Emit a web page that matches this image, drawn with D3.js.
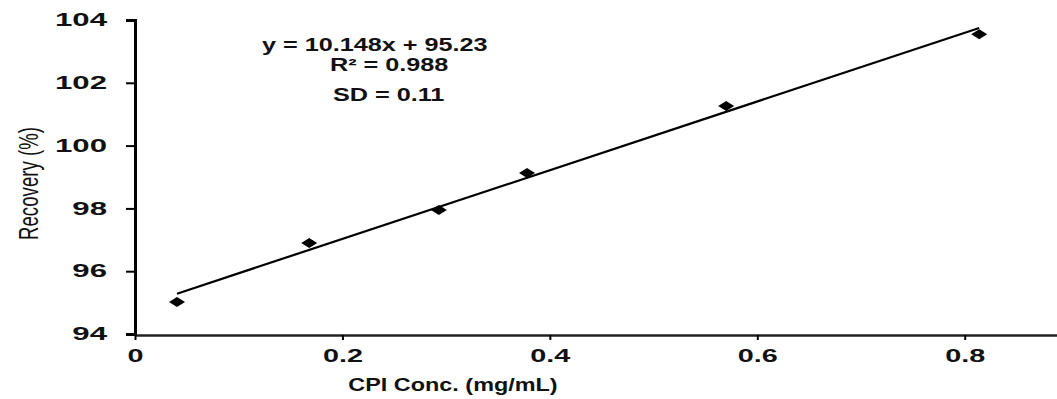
<!DOCTYPE html>
<html>
<head>
<meta charset="utf-8">
<script src="https://cdn.jsdelivr.net/npm/d3@7"></script>
<style>
  html, body { margin: 0; padding: 0; background: #fff; }
  svg { display: block; }
  text { font-family: "Liberation Sans", Arial, sans-serif; }
</style>
</head>
<body>
<svg id="chart" width="1057" height="399"></svg>
<script>
// ---- data ----
const concentration = [0.0405, 0.168, 0.293, 0.378, 0.570, 0.814];
const recovery = [95.02, 96.90, 97.95, 99.13, 101.26, 103.55];
const yTicks = [94, 96, 98, 100, 102, 104];
const xTicks = [0, 0.2, 0.4, 0.6, 0.8];
const annotationLines = ["y = 10.148x + 95.23", "R² = 0.988", "SD = 0.11"];
const xTitle = "CPI Conc. (mg/mL)";
const yTitle = "Recovery (%)";

const svg = d3.select("#chart");
const x = d3.scaleLinear().domain([0, 0.889]).range([135, 1057]);
const y = d3.scaleLinear().domain([94, 104]).range([334, 20]);

// horizontally stretched text: keeps glyph height, widens by factor, honours anchor
function stretchText(sel, factor, anchor) {
  sel.each(function () {
    const t = d3.select(this);
    const w = this.getComputedTextLength();
    const W = w * factor;
    const x0 = +t.attr("x") || 0;
    let start = x0;
    if (anchor === "end") start = x0 - W;
    else if (anchor === "middle") start = x0 - W / 2;
    t.attr("text-anchor", "start").attr("x", start)
     .attr("textLength", W).attr("lengthAdjust", "spacingAndGlyphs");
  });
}

// y axis
const gy = svg.append("g").attr("transform", "translate(135,0)")
  .call(d3.axisLeft(y).tickValues(yTicks).tickSize(9).tickPadding(19).tickFormat(d3.format("d")));
gy.select(".domain").attr("stroke", "#000").attr("stroke-width", 3);
gy.selectAll(".tick line").attr("stroke", "#000").attr("stroke-width", 2);
gy.selectAll(".tick text").attr("fill", "#111").attr("font-size", 18).attr("font-weight", "bold")
  .attr("font-family", "Liberation Sans, Arial, sans-serif").call(stretchText, 1.73, "end");

// x axis
const gx = svg.append("g").attr("transform", "translate(0,335)")
  .call(d3.axisBottom(x).tickValues(xTicks).tickSize(5).tickSizeOuter(0).tickPadding(9)
    .tickFormat(d => d === 0 ? "0" : d3.format(".1f")(d)));
gx.select(".domain").attr("stroke", "#222").attr("stroke-width", 2.5);
gx.selectAll(".tick line").attr("stroke", "#000").attr("stroke-width", 2);
gx.selectAll(".tick text").attr("fill", "#111").attr("font-size", 18).attr("font-weight", "bold")
  .attr("font-family", "Liberation Sans, Arial, sans-serif").call(stretchText, 1.6, "middle");

// least-squares trend line computed from data
const mx = d3.mean(concentration), my = d3.mean(recovery);
const slope = d3.sum(concentration, (c, i) => (c - mx) * (recovery[i] - my)) /
              d3.sum(concentration, c => (c - mx) ** 2);
const intercept = my - slope * mx;
const [x0, x1] = d3.extent(concentration);
svg.append("line")
  .attr("x1", x(x0)).attr("y1", y(intercept + slope * x0))
  .attr("x2", x(x1)).attr("y2", y(intercept + slope * x1))
  .attr("stroke", "#000").attr("stroke-width", 2.2);

// diamond markers
svg.append("g").selectAll("path").data(concentration).join("path")
  .attr("transform", (d, i) => `translate(${x(d)},${y(recovery[i])})`)
  .attr("d", "M-8,0L0,-5L8,0L0,5Z")
  .attr("fill", "#000");

// annotation
const annX = [262, 330, 333];
const annY = [45, 65, 95];
svg.append("g").selectAll("text").data(annotationLines).join("text")
  .attr("x", (d, i) => annX[i]).attr("y", (d, i) => annY[i])
  .attr("dy", "0.35em")
  .attr("font-size", 18).attr("font-weight", "bold").attr("fill", "#111")
  .text(d => d).call(stretchText, 1.4, "start");

// axis titles
svg.append("text").attr("x", 453).attr("y", 385).attr("dy", "0.35em")
  .attr("font-size", 18).attr("font-weight", "bold").attr("fill", "#111")
  .text(xTitle).call(stretchText, 1.3, "middle");

svg.append("text").attr("transform", "translate(28,183.5) rotate(-90)")
  .attr("text-anchor", "middle").attr("dy", "0.35em")
  .attr("font-size", 28).attr("fill", "#111")
  .attr("textLength", 113).attr("lengthAdjust", "spacingAndGlyphs")
  .text(yTitle);
</script>
</body>
</html>
